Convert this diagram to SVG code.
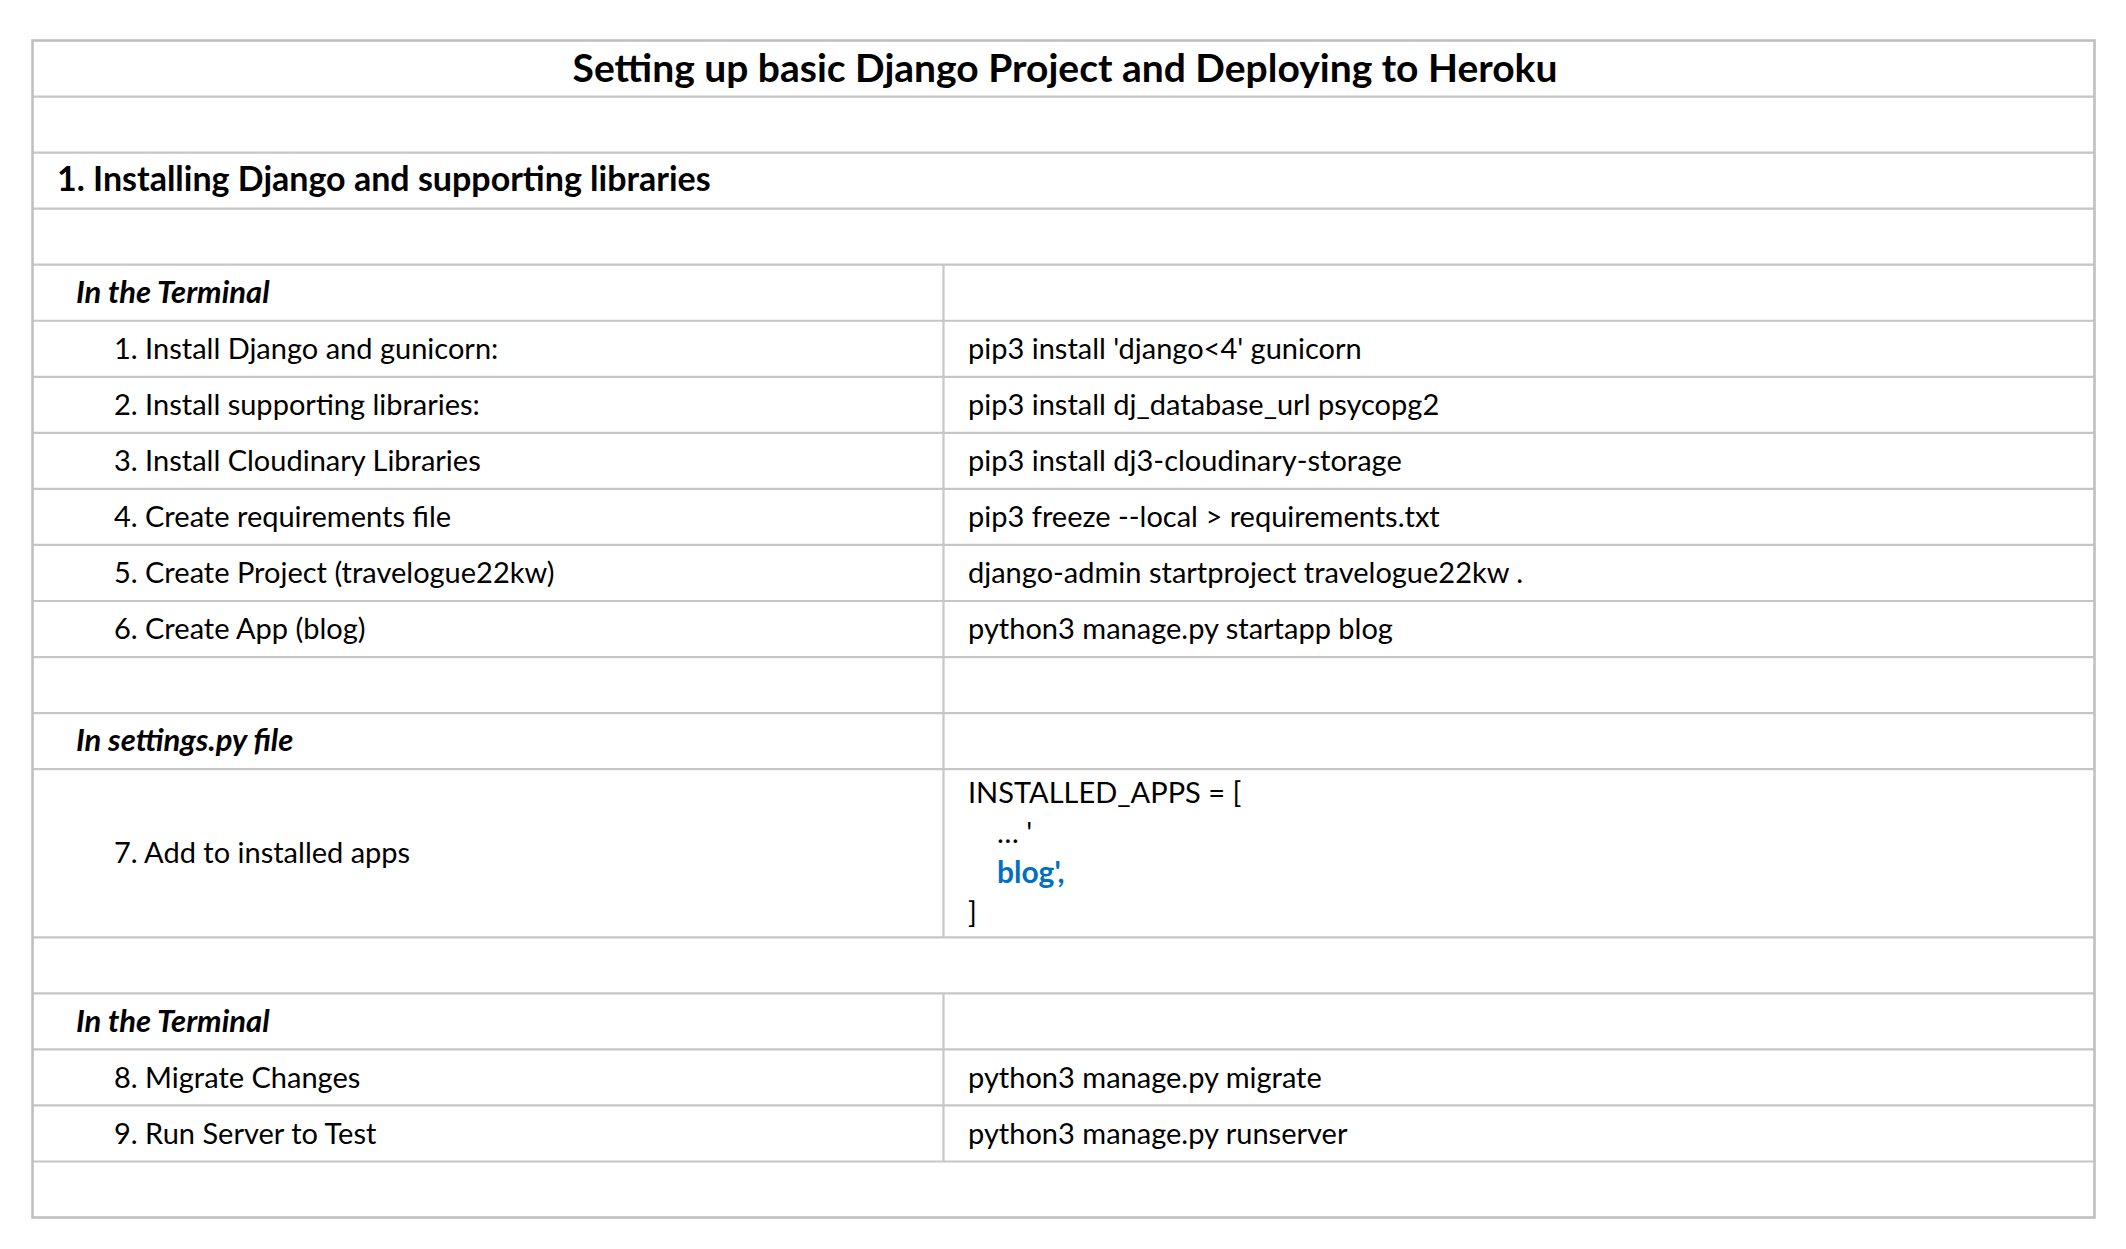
<svg xmlns="http://www.w3.org/2000/svg" width="2126" height="1249" viewBox="0 0 2126 1249">
<style>
.bg{fill:#ffffff}
.hl{stroke:#c6c6c6;stroke-width:2.2;fill:none}
.ol{stroke:#c0c0c0;stroke-width:2.6;fill:none}
.t{font-family:Lato,"Liberation Sans",sans-serif;fill:#000000}
.title{font-size:39px;font-weight:700}
.sec{font-size:34px;font-weight:700}
.sub{font-size:31px;font-weight:700;font-style:italic}
.body{font-size:29px}
.blue{fill:#0070c0;font-weight:700;font-size:30px}
</style>
<rect class="bg" x="0" y="0" width="2126" height="1249"/>
<g id="grid">
<line class="hl" x1="32.5" y1="96.55" x2="2094.5" y2="96.55"/>
<line class="hl" x1="32.5" y1="152.6" x2="2094.5" y2="152.6"/>
<line class="hl" x1="32.5" y1="208.65" x2="2094.5" y2="208.65"/>
<line class="hl" x1="32.5" y1="264.7" x2="2094.5" y2="264.7"/>
<line class="hl" x1="32.5" y1="320.75" x2="2094.5" y2="320.75"/>
<line class="hl" x1="32.5" y1="376.8" x2="2094.5" y2="376.8"/>
<line class="hl" x1="32.5" y1="432.85" x2="2094.5" y2="432.85"/>
<line class="hl" x1="32.5" y1="488.9" x2="2094.5" y2="488.9"/>
<line class="hl" x1="32.5" y1="544.95" x2="2094.5" y2="544.95"/>
<line class="hl" x1="32.5" y1="601" x2="2094.5" y2="601"/>
<line class="hl" x1="32.5" y1="657.05" x2="2094.5" y2="657.05"/>
<line class="hl" x1="32.5" y1="713.1" x2="2094.5" y2="713.1"/>
<line class="hl" x1="32.5" y1="769.15" x2="2094.5" y2="769.15"/>
<line class="hl" x1="32.5" y1="937.3" x2="2094.5" y2="937.3"/>
<line class="hl" x1="32.5" y1="993.35" x2="2094.5" y2="993.35"/>
<line class="hl" x1="32.5" y1="1049.4" x2="2094.5" y2="1049.4"/>
<line class="hl" x1="32.5" y1="1105.45" x2="2094.5" y2="1105.45"/>
<line class="hl" x1="32.5" y1="1161.5" x2="2094.5" y2="1161.5"/>
<line class="hl" x1="943.5" y1="264.7" x2="943.5" y2="937.3"/>
<line class="hl" x1="943.5" y1="993.35" x2="943.5" y2="1161.5"/>
<rect class="ol" x="32.5" y="40.5" width="2062" height="1177"/>
</g>
<g id="title">
<text class="t title" x="1065" y="82" text-anchor="middle">Setting up basic Django Project and Deploying to Heroku</text>
</g>
<g id="section1">
<text class="t sec" x="57" y="191">1. Installing Django and supporting libraries</text>
</g>
<g id="terminal1">
<text class="t sub" x="76" y="303">In the Terminal</text>
</g>
<g id="step1">
<text class="t body" x="114" y="359">1. Install Django and gunicorn:</text>
<text class="t body" x="968" y="359">pip3 install 'django&lt;4' gunicorn</text>
</g>
<g id="step2">
<text class="t body" x="114" y="415">2. Install supporting libraries:</text>
<text class="t body" x="968" y="415">pip3 install dj_database_url psycopg2</text>
</g>
<g id="step3">
<text class="t body" x="114" y="471">3. Install Cloudinary Libraries</text>
<text class="t body" x="968" y="471">pip3 install dj3-cloudinary-storage</text>
</g>
<g id="step4">
<text class="t body" x="114" y="527">4. Create requirements file</text>
<text class="t body" x="968" y="527">pip3 freeze --local &gt; requirements.txt</text>
</g>
<g id="step5">
<text class="t body" x="114" y="583">5. Create Project (travelogue22kw)</text>
<text class="t body" x="968" y="583">django-admin startproject travelogue22kw .</text>
</g>
<g id="step6">
<text class="t body" x="114" y="639">6. Create App (blog)</text>
<text class="t body" x="968" y="639">python3 manage.py startapp blog</text>
</g>
<g id="settings">
<text class="t sub" x="76" y="751">In settings.py file</text>
</g>
<g id="step7">
<text class="t body" x="114" y="863">7. Add to installed apps</text>
<text class="t body" x="968" y="803">INSTALLED_APPS = [</text>
<text class="t body" x="997" y="843">… '</text>
<text class="t body blue" x="997" y="883">blog',</text>
<text class="t body" x="968" y="923">]</text>
</g>
<g id="terminal2">
<text class="t sub" x="76" y="1032">In the Terminal</text>
</g>
<g id="step8">
<text class="t body" x="114" y="1088">8. Migrate Changes</text>
<text class="t body" x="968" y="1088">python3 manage.py migrate</text>
</g>
<g id="step9">
<text class="t body" x="114" y="1144">9. Run Server to Test</text>
<text class="t body" x="968" y="1144">python3 manage.py runserver</text>
</g>
</svg>
